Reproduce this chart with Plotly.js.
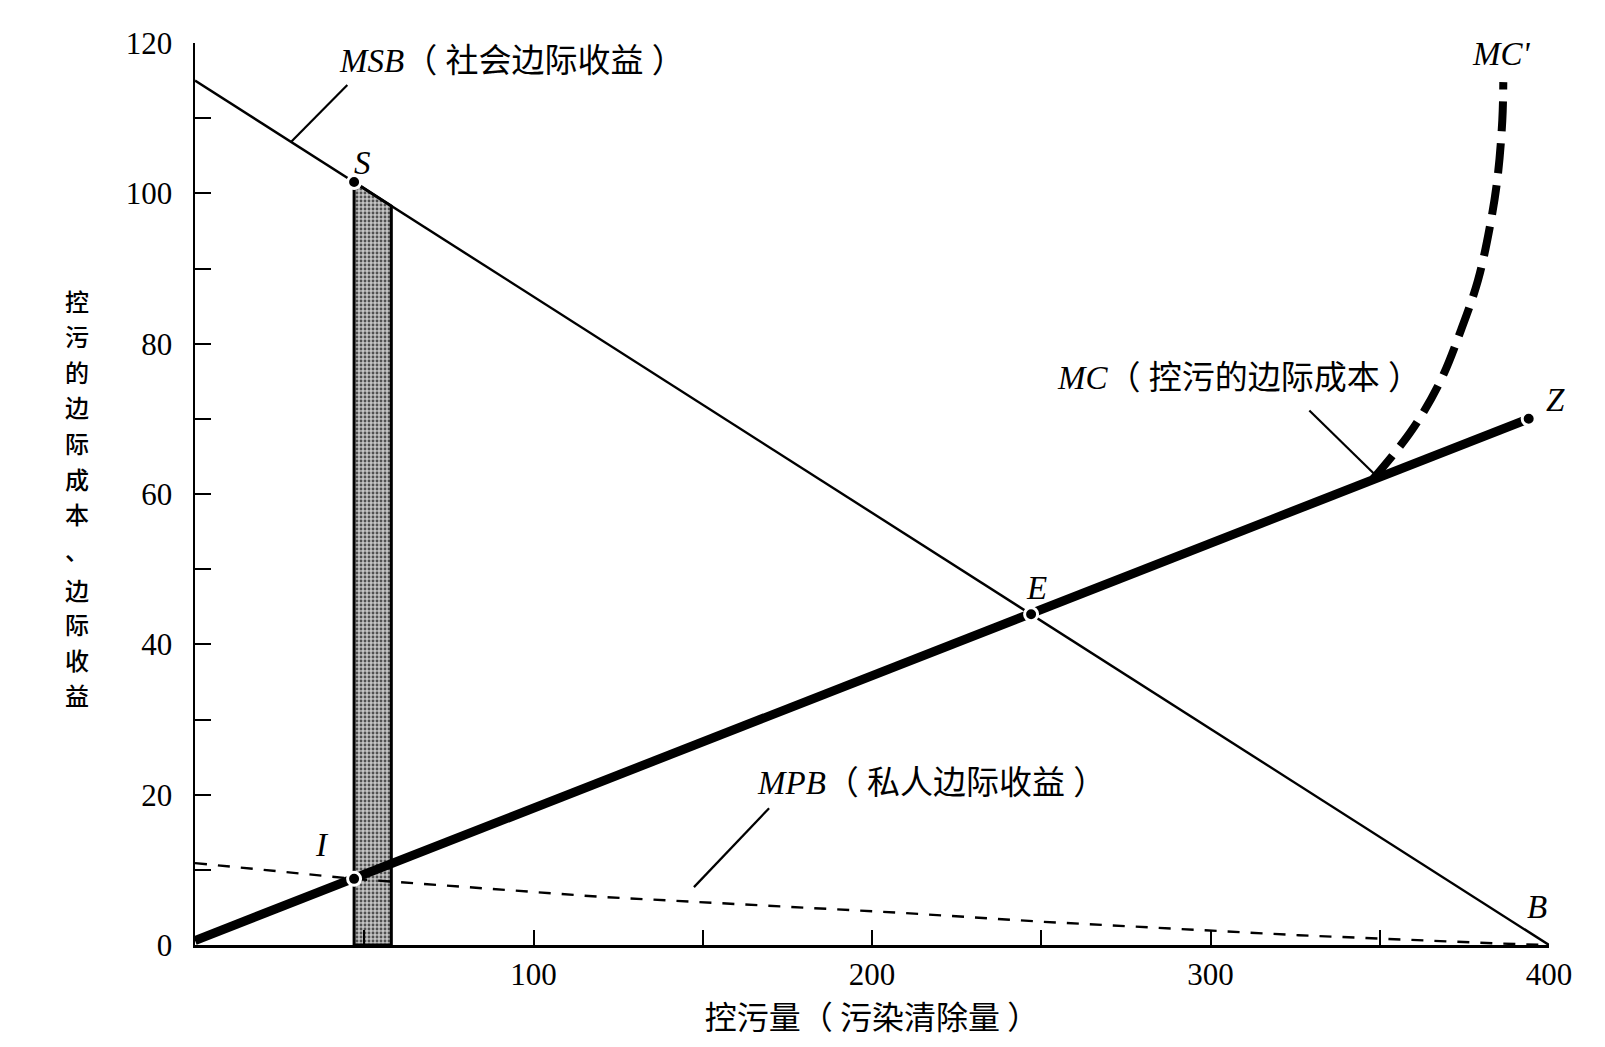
<!DOCTYPE html>
<html>
<head>
<meta charset="utf-8">
<script src="https://cdn.plot.ly/plotly-3.0.1.min.js"></script>
<style>html,body{margin:0;padding:0;background:#fff;}#chart{width:1605px;height:1047px;}</style>
</head>
<body>
<div id="chart"></div>
<script>
// ---- data ----
const msbX = [0, 400];
const msbY = [115, 0];
const mcX = [0, 394];
const mcY = [0.6, 70];
const mcPrimeX = [348, 359.5, 368, 374, 379, 382.5, 384.8, 386.2, 386.5];
const mcPrimeY = [62, 68.5, 75.1, 81.8, 88.4, 95.5, 102.1, 109.7, 114.8];
const mpbX = [0, 47, 120, 208, 250, 326, 385, 400];
const mpbY = [10.9, 8.8, 6.4, 4.3, 3.1, 1.3, 0.2, 0];
const bandX = [47, 47, 58, 58, 47];
const bandY = [0, 101.5, 98.3, 0, 0];
const pointNames = ['S', 'E', 'I', 'Z'];
const pointX = [47, 247, 47, 394];
const pointY = [101.5, 44, 8.8, 70];
const msbLeaderX = [28.5, 45];
const msbLeaderY = [106.9, 114.4];
const mcLeaderX = [329.2, 349];
const mcLeaderY = [71.1, 62.4];
const mpbLeaderX = [147.4, 169.6];
const mpbLeaderY = [7.7, 18.2];
const letterText = ['S', 'E', 'I', 'Z', 'B'];
const letterX = [49.5, 248.7, 37.5, 398, 396.5];
const letterY = [104, 47.5, 13.3, 72.5, 5.1];
const primeLabel = "MC'";
const primeLabelX = 386;
const primeLabelY = 118.6;
const curveLabels = ['<i>MSB</i>（ 社会边际收益 ）', '<i>MC</i>（ 控污的边际成本 ）', '<i>MPB</i>（ 私人边际收益 ）'];
const curveLabelX = [42, 254, 165.5];
const curveLabelY = [117.6, 75.4, 21.5];
const xTickVals = [50, 100, 150, 200, 250, 300, 350, 400];
const xTickText = ['', '100', '', '200', '', '300', '', '400'];
const yTickVals = [0, 10, 20, 30, 40, 50, 60, 70, 80, 90, 100, 110, 120];
const yTickText = ['0', '', '20', '', '40', '', '60', '', '80', '', '100', '', '120'];
const xTitle = '控污量（ 污染清除量 ）';
const yTitleTop = ['控', '污', '的', '边', '际', '成', '本', '、'];
const yTitleBottom = ['边', '际', '收', '益'];

const serif = 'Liberation Serif, Noto Sans CJK SC, serif';
const mixed = 'Liberation Serif, Noto Sans CJK SC, sans-serif';
const cjk = 'Noto Sans CJK SC, sans-serif';

const traces = [
  {x: bandX, y: bandY, mode: 'lines', fill: 'toself', fillcolor: '#b4b4b4',
   fillpattern: {shape: '.', fgcolor: '#505050', bgcolor: '#c4c4c4', size: 4, solidity: 0.4},
   line: {color: '#000', width: 3}, hoverinfo: 'skip'},
  {x: mpbX, y: mpbY, mode: 'lines', line: {color: '#000', width: 2.4, dash: '12px,11px'}},
  {x: msbX, y: msbY, mode: 'lines', line: {color: '#000', width: 2.4}},
  {x: mcX, y: mcY, mode: 'lines', line: {color: '#000', width: 9}},
  {x: mcPrimeX, y: mcPrimeY, mode: 'lines', line: {color: '#000', width: 8, dash: '30px,12px', shape: 'spline'}},
  {x: msbLeaderX, y: msbLeaderY, mode: 'lines', line: {color: '#000', width: 2.2}},
  {x: mcLeaderX, y: mcLeaderY, mode: 'lines', line: {color: '#000', width: 2.2}},
  {x: mpbLeaderX, y: mpbLeaderY, mode: 'lines', line: {color: '#000', width: 2.2}},
  {x: pointX, y: pointY, text: pointNames, mode: 'markers',
   marker: {color: '#000', size: 13, line: {color: '#fff', width: 3}}}
].map(t => Object.assign({showlegend: false, cliponaxis: false}, t));

const annotations = [];
letterText.forEach((t, i) => annotations.push({
  x: letterX[i], y: letterY[i], xref: 'x', yref: 'y', text: '<i>' + t + '</i>',
  xshift: t === 'Z' ? 13 : 0,
  showarrow: false, font: {family: serif, size: 33, color: '#000'}, xanchor: 'center', yanchor: 'middle'
}));
annotations.push({x: primeLabelX, y: primeLabelY, xref: 'x', yref: 'y', text: '<i>' + primeLabel + '</i>',
  showarrow: false, font: {family: serif, size: 33, color: '#000'}, xanchor: 'center', yanchor: 'middle'});
curveLabels.forEach((t, i) => annotations.push({
  x: curveLabelX[i], y: curveLabelY[i], xref: 'x', yref: 'y', text: t,
  showarrow: false, font: {family: mixed, size: 33, color: '#000'}, xanchor: 'left', yanchor: 'middle'
}));
// vertical y-axis title, one character per row
const plotTopPx = 43, plotBottomPx = 945, plotH = plotBottomPx - plotTopPx;
yTitleTop.forEach((ch, i) => annotations.push({
  x: -0.0872, y: (plotBottomPx - (300 + 35.6 * i)) / plotH, xref: 'paper', yref: 'paper', text: ch,
  showarrow: false, font: {family: cjk, size: 24, color: '#000', weight: 500}, xanchor: 'center', yanchor: 'middle'
}));
yTitleBottom.forEach((ch, i) => annotations.push({
  x: -0.0872, y: (plotBottomPx - (589 + 35 * i)) / plotH, xref: 'paper', yref: 'paper', text: ch,
  showarrow: false, font: {family: cjk, size: 24, color: '#000', weight: 500}, xanchor: 'center', yanchor: 'middle'
}));

const layout = {
  width: 1605, height: 1047,
  margin: {l: 195, r: 56, t: 43, b: 102},
  paper_bgcolor: '#fff', plot_bgcolor: '#fff',
  showlegend: false,
  xaxis: {range: [0, 400], showgrid: false, zeroline: false, showline: true, linecolor: '#000', linewidth: 2.5,
    ticks: 'inside', ticklen: 15, tickwidth: 2, tickcolor: '#000',
    tickvals: xTickVals, ticktext: xTickText, ticklabelstandoff: 0,
    tickfont: {family: serif, size: 31, color: '#000'},
    title: {text: xTitle, font: {family: cjk, size: 32, color: '#000'}, standoff: 8}},
  yaxis: {range: [0, 120], showgrid: false, zeroline: false, showline: true, linecolor: '#000', linewidth: 2.5,
    ticks: 'inside', ticklen: 16, tickwidth: 2, tickcolor: '#000',
    tickvals: yTickVals, ticktext: yTickText, ticklabelstandoff: 14,
    tickfont: {family: serif, size: 31, color: '#000'}},
  annotations: annotations
};

Plotly.newPlot('chart', traces, layout, {displayModeBar: false, staticPlot: true});
</script>
</body>
</html>
